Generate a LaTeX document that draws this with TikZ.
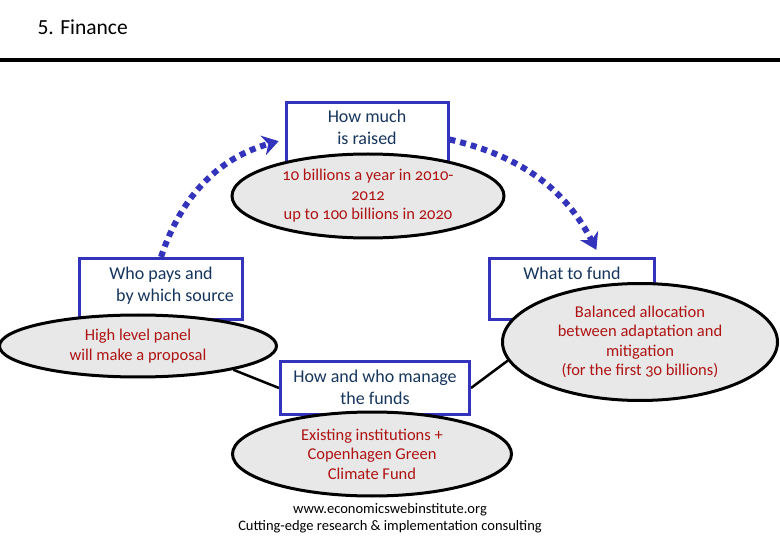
\documentclass[tikz,border=0pt]{standalone}
\usepackage{fontspec}
\setmainfont{Carlito}
\newfontfamily\ellfont[Numbers=OldStyle]{Carlito}
\usepackage{xcolor}
\usetikzlibrary{arrows.meta,positioning,shapes.geometric,backgrounds}
\definecolor{boxblue}{RGB}{51,51,187}
\definecolor{navytext}{RGB}{23,54,93}
\definecolor{redtext}{RGB}{175,20,20}
\definecolor{ellgray}{RGB}{232,232,232}

\begin{document}
\begin{tikzpicture}[x=1pt,y=-1pt,>=Stealth,
  box/.style={draw=boxblue,line width=3pt,fill=white,anchor=north,align=center,text=navytext,
    font=\fontsize{18}{21.5}\selectfont,inner ysep=8pt},
  ell/.style={ellipse,draw,line width=3pt,fill=ellgray,align=center,text=redtext,
    font=\ellfont\fontsize{16.5}{19.5}\selectfont,inner sep=0pt},
  flow/.style={draw=boxblue,line width=6pt,dash pattern=on 6pt off 5pt,
    -{Stealth[length=16pt,width=20pt]}}]
  \useasboundingbox (0,0) rectangle (780,540);
  \node[anchor=base west,font=\fontsize{21.5}{25}\selectfont] (title) at (34,35) {5. Finance};
  \draw[line width=4pt] (0,60) -- (780,60);
  % questions
  \node[box,minimum width=162pt,text height=34pt,text depth=24pt] (raised) at (367,101) {How much\\is raised};
  \node[box,minimum width=163pt,text height=35pt,text depth=10pt] (payer) at (161,257) {Who pays and\\\hspace*{28pt}by which source};
  \node[box,minimum width=165pt,text height=13pt,text depth=32pt] (fund) at (572,257) {What to fund};
  \node[box,minimum width=189pt,text height=35pt,text depth=2pt] (manage) at (375,360) {How and who manage\\the funds};
  % answers
  \node[ell,minimum width=272pt,minimum height=84pt] (amount) at (368,196) {10 billions a year in 2010-\\2012\\up to 100 billions in 2020};
  \node[ell,minimum width=277pt,minimum height=62pt] (panel) at (138,346) {High level panel\\will make a proposal};
  \node[ell,minimum width=275pt,minimum height=117pt] (balance) at (640,342) {Balanced allocation\\between adaptation and\\mitigation\\(for the first 30 billions)};
  \node[ell,minimum width=279pt,minimum height=84pt] (institutions) at (372,454) {Existing institutions +\\Copenhagen Green\\Climate Fund};
  \begin{scope}[on background layer]
    \draw[line width=2.5pt] (panel.-14) -- (manage.west);
    \draw[line width=2.5pt] (manage.east) -- (balance.188);
  \end{scope}
  \draw[flow,shorten >=6pt] (payer.north) to[bend left=28] (raised.west);
  \draw[flow,shorten >=8pt] (raised.east) to[bend left=25] ([xshift=28pt]fund.north);
  \node[align=center,font=\fontsize{14.5}{16.5}\selectfont] (footer) at (390,518) {www.economicswebinstitute.org\\Cutting-edge research \& implementation consulting};
\end{tikzpicture}
\end{document}
